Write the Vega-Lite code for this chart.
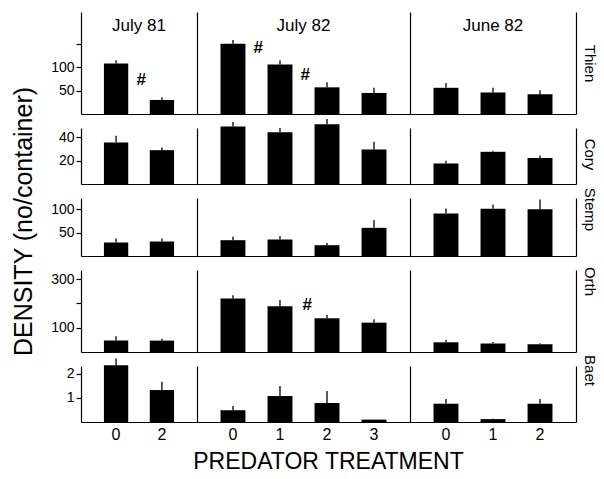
{
  "$schema": "https://vega.github.io/schema/vega-lite/v6.json",
  "padding": {"left": 11, "top": 12, "right": 4, "bottom": 4},
  "background": "white",
  "config": {
    "font": "Liberation Sans",
    "view": {"stroke": null},
    "axis": {"domainColor": "black", "tickColor": "black", "labelColor": "black", "titleColor": "black", "grid": false, "domainWidth": 1.2, "tickWidth": 1.2, "labelFontSize": 14, "titleFontWeight": "normal"},
    "title": {"fontWeight": "normal", "color": "black"}
  },
  "data": {"values": [
    {"taxon": "Thien", "period": "July 81", "treatment": 0, "mean": 108, "upper": 115, "hash": 72},
    {"taxon": "Thien", "period": "July 81", "treatment": 2, "mean": 30, "upper": 36},
    {"taxon": "Thien", "period": "July 82", "treatment": 0, "mean": 150, "upper": 158, "hash": 141},
    {"taxon": "Thien", "period": "July 82", "treatment": 1, "mean": 106, "upper": 115, "hash": 83},
    {"taxon": "Thien", "period": "July 82", "treatment": 2, "mean": 57, "upper": 68},
    {"taxon": "Thien", "period": "July 82", "treatment": 3, "mean": 45, "upper": 56},
    {"taxon": "Thien", "period": "June 82", "treatment": 0, "mean": 56, "upper": 66},
    {"taxon": "Thien", "period": "June 82", "treatment": 1, "mean": 46, "upper": 56},
    {"taxon": "Thien", "period": "June 82", "treatment": 2, "mean": 42, "upper": 51},
    {"taxon": "Cory", "period": "July 81", "treatment": 0, "mean": 35.6, "upper": 41.3},
    {"taxon": "Cory", "period": "July 81", "treatment": 2, "mean": 29, "upper": 31.3},
    {"taxon": "Cory", "period": "July 82", "treatment": 0, "mean": 49.2, "upper": 53.2},
    {"taxon": "Cory", "period": "July 82", "treatment": 1, "mean": 44.4, "upper": 48.1},
    {"taxon": "Cory", "period": "July 82", "treatment": 2, "mean": 51.3, "upper": 55.8},
    {"taxon": "Cory", "period": "July 82", "treatment": 3, "mean": 29.6, "upper": 36.2},
    {"taxon": "Cory", "period": "June 82", "treatment": 0, "mean": 17.6, "upper": 19.9},
    {"taxon": "Cory", "period": "June 82", "treatment": 1, "mean": 27.6, "upper": 28.5},
    {"taxon": "Cory", "period": "June 82", "treatment": 2, "mean": 22.2, "upper": 24.4},
    {"taxon": "Stemp", "period": "July 81", "treatment": 0, "mean": 28.9, "upper": 37.5},
    {"taxon": "Stemp", "period": "July 81", "treatment": 2, "mean": 31, "upper": 37.5},
    {"taxon": "Stemp", "period": "July 82", "treatment": 0, "mean": 33.8, "upper": 40.9},
    {"taxon": "Stemp", "period": "July 82", "treatment": 1, "mean": 35.3, "upper": 43},
    {"taxon": "Stemp", "period": "July 82", "treatment": 2, "mean": 23.1, "upper": 28},
    {"taxon": "Stemp", "period": "July 82", "treatment": 3, "mean": 60.2, "upper": 76.7},
    {"taxon": "Stemp", "period": "June 82", "treatment": 0, "mean": 91, "upper": 101.7},
    {"taxon": "Stemp", "period": "June 82", "treatment": 1, "mean": 100.9, "upper": 110.3},
    {"taxon": "Stemp", "period": "June 82", "treatment": 2, "mean": 100.2, "upper": 121},
    {"taxon": "Orth", "period": "July 81", "treatment": 0, "mean": 47, "upper": 65},
    {"taxon": "Orth", "period": "July 81", "treatment": 2, "mean": 47, "upper": 55},
    {"taxon": "Orth", "period": "July 82", "treatment": 0, "mean": 221, "upper": 234},
    {"taxon": "Orth", "period": "July 82", "treatment": 1, "mean": 189, "upper": 214, "hash": 193},
    {"taxon": "Orth", "period": "July 82", "treatment": 2, "mean": 139, "upper": 152},
    {"taxon": "Orth", "period": "July 82", "treatment": 3, "mean": 121, "upper": 135},
    {"taxon": "Orth", "period": "June 82", "treatment": 0, "mean": 40, "upper": 51},
    {"taxon": "Orth", "period": "June 82", "treatment": 1, "mean": 35, "upper": 41},
    {"taxon": "Orth", "period": "June 82", "treatment": 2, "mean": 32, "upper": 36},
    {"taxon": "Baet", "period": "July 81", "treatment": 0, "mean": 2.36, "upper": 2.64},
    {"taxon": "Baet", "period": "July 81", "treatment": 2, "mean": 1.33, "upper": 1.67},
    {"taxon": "Baet", "period": "July 82", "treatment": 0, "mean": 0.49, "upper": 0.67},
    {"taxon": "Baet", "period": "July 82", "treatment": 1, "mean": 1.08, "upper": 1.5},
    {"taxon": "Baet", "period": "July 82", "treatment": 2, "mean": 0.79, "upper": 1.29},
    {"taxon": "Baet", "period": "July 82", "treatment": 3, "mean": 0.1, "upper": 0.1},
    {"taxon": "Baet", "period": "June 82", "treatment": 0, "mean": 0.76, "upper": 0.96},
    {"taxon": "Baet", "period": "June 82", "treatment": 1, "mean": 0.12, "upper": 0.14},
    {"taxon": "Baet", "period": "June 82", "treatment": 2, "mean": 0.76, "upper": 0.96}
  ]},
  "columns": 3,
  "bounds": "flush",
  "align": "each",
  "spacing": {"row": 14, "column": 0},
  "concat": [
    {
      "width": 116, "height": 102,
      "title": {"text": "July 81", "offset": -19, "dy": 17, "baseline": "alphabetic", "fontSize": 17, "frame": "group"},
      "transform": [{"filter": "datum.taxon == 'Thien' && datum.period == 'July 81'"}],
      "encoding": {"x": {"field": "treatment", "type": "ordinal", "scale": {"paddingInner": 0.47, "paddingOuter": 0.5}, "axis": {"labels": false, "ticks": false, "title": null}}},
      "layer": [
        {"mark": {"type": "bar", "color": "black"}, "encoding": {"y": {"field": "mean", "type": "quantitative", "scale": {"domain": [0, 218], "nice": false}, "axis": {"values": [50, 100, 150], "labelExpr": "datum.value == 150 ? '' : datum.label", "tickSize": 5, "labelPadding": 2, "title": null}}}},
        {"mark": {"type": "rule", "color": "black", "strokeWidth": 1.3}, "encoding": {"y": {"field": "mean", "type": "quantitative"}, "y2": {"field": "upper"}}},
        {"transform": [{"filter": "isValid(datum.hash)"}], "mark": {"type": "text", "text": "#", "dx": 25, "fontSize": 17, "fontStyle": "italic", "fontWeight": "bold", "color": "black"}, "encoding": {"y": {"field": "hash", "type": "quantitative"}}}
      ]
    },
    {
      "width": 213, "height": 102,
      "title": {"text": "July 82", "offset": -19, "dy": 17, "baseline": "alphabetic", "fontSize": 17, "frame": "group"},
      "transform": [{"filter": "datum.taxon == 'Thien' && datum.period == 'July 82'"}],
      "encoding": {"x": {"field": "treatment", "type": "ordinal", "scale": {"paddingInner": 0.47, "paddingOuter": 0.5}, "axis": {"labels": false, "ticks": false, "title": null}}},
      "layer": [
        {"mark": {"type": "bar", "color": "black"}, "encoding": {"y": {"field": "mean", "type": "quantitative", "scale": {"domain": [0, 218], "nice": false}, "axis": {"labels": false, "ticks": false, "title": null}}}},
        {"mark": {"type": "rule", "color": "black", "strokeWidth": 1.3}, "encoding": {"y": {"field": "mean", "type": "quantitative"}, "y2": {"field": "upper"}}},
        {"transform": [{"filter": "isValid(datum.hash)"}], "mark": {"type": "text", "text": "#", "dx": 25, "fontSize": 17, "fontStyle": "italic", "fontWeight": "bold", "color": "black"}, "encoding": {"y": {"field": "hash", "type": "quantitative"}}}
      ]
    },
    {
      "width": 166, "height": 102,
      "title": {"text": "June 82", "offset": -19, "dy": 17, "baseline": "alphabetic", "fontSize": 17, "frame": "group"},
      "transform": [{"filter": "datum.taxon == 'Thien' && datum.period == 'June 82'"}],
      "encoding": {"x": {"field": "treatment", "type": "ordinal", "scale": {"paddingInner": 0.47, "paddingOuter": 0.5}, "axis": {"labels": false, "ticks": false, "title": null}}},
      "resolve": {"axis": {"y": "independent"}},
      "layer": [
        {"mark": {"type": "bar", "color": "black"}, "encoding": {"y": {"field": "mean", "type": "quantitative", "scale": {"domain": [0, 218], "nice": false}, "axis": {"labels": false, "ticks": false, "title": null}}}},
        {"mark": {"type": "rule", "color": "black", "strokeWidth": 1.3}, "encoding": {"y": {"field": "mean", "type": "quantitative", "axis": {"orient": "right", "labels": false, "ticks": false, "title": "Thien", "titleAngle": 90, "titleFontSize": 15, "titlePadding": 5, "titleY": 51}}, "y2": {"field": "upper"}}}
      ]
    },
    {
      "width": 116, "height": 56,
      "transform": [{"filter": "datum.taxon == 'Cory' && datum.period == 'July 81'"}],
      "encoding": {"x": {"field": "treatment", "type": "ordinal", "scale": {"paddingInner": 0.47, "paddingOuter": 0.5}, "axis": {"labels": false, "ticks": false, "title": null}}},
      "layer": [
        {"mark": {"type": "bar", "color": "black"}, "encoding": {"y": {"field": "mean", "type": "quantitative", "scale": {"domain": [0, 48], "nice": false}, "axis": {"values": [20, 40], "tickSize": 5, "labelPadding": 2, "title": null}}}},
        {"mark": {"type": "rule", "color": "black", "strokeWidth": 1.3}, "encoding": {"y": {"field": "mean", "type": "quantitative"}, "y2": {"field": "upper"}}}
      ]
    },
    {
      "width": 213, "height": 56,
      "transform": [{"filter": "datum.taxon == 'Cory' && datum.period == 'July 82'"}],
      "encoding": {"x": {"field": "treatment", "type": "ordinal", "scale": {"paddingInner": 0.47, "paddingOuter": 0.5}, "axis": {"labels": false, "ticks": false, "title": null}}},
      "layer": [
        {"mark": {"type": "bar", "color": "black"}, "encoding": {"y": {"field": "mean", "type": "quantitative", "scale": {"domain": [0, 48], "nice": false}, "axis": {"labels": false, "ticks": false, "title": null}}}},
        {"mark": {"type": "rule", "color": "black", "strokeWidth": 1.3}, "encoding": {"y": {"field": "mean", "type": "quantitative"}, "y2": {"field": "upper"}}}
      ]
    },
    {
      "width": 166, "height": 56,
      "transform": [{"filter": "datum.taxon == 'Cory' && datum.period == 'June 82'"}],
      "encoding": {"x": {"field": "treatment", "type": "ordinal", "scale": {"paddingInner": 0.47, "paddingOuter": 0.5}, "axis": {"labels": false, "ticks": false, "title": null}}},
      "resolve": {"axis": {"y": "independent"}},
      "layer": [
        {"mark": {"type": "bar", "color": "black"}, "encoding": {"y": {"field": "mean", "type": "quantitative", "scale": {"domain": [0, 48], "nice": false}, "axis": {"labels": false, "ticks": false, "title": null}}}},
        {"mark": {"type": "rule", "color": "black", "strokeWidth": 1.3}, "encoding": {"y": {"field": "mean", "type": "quantitative", "axis": {"orient": "right", "labels": false, "ticks": false, "title": "Cory", "titleAngle": 90, "titleFontSize": 15, "titlePadding": 5, "titleY": 26}}, "y2": {"field": "upper"}}}
      ]
    },
    {
      "width": 116, "height": 58,
      "transform": [{"filter": "datum.taxon == 'Stemp' && datum.period == 'July 81'"}],
      "encoding": {"x": {"field": "treatment", "type": "ordinal", "scale": {"paddingInner": 0.47, "paddingOuter": 0.5}, "axis": {"labels": false, "ticks": false, "title": null}}},
      "layer": [
        {"mark": {"type": "bar", "color": "black"}, "encoding": {"y": {"field": "mean", "type": "quantitative", "scale": {"domain": [0, 124], "nice": false}, "axis": {"values": [50, 100], "tickSize": 5, "labelPadding": 2, "title": "DENSITY (no/container)", "titleFontSize": 25, "titlePadding": 14, "titleY": 23}}}},
        {"mark": {"type": "rule", "color": "black", "strokeWidth": 1.3}, "encoding": {"y": {"field": "mean", "type": "quantitative"}, "y2": {"field": "upper"}}}
      ]
    },
    {
      "width": 213, "height": 58,
      "transform": [{"filter": "datum.taxon == 'Stemp' && datum.period == 'July 82'"}],
      "encoding": {"x": {"field": "treatment", "type": "ordinal", "scale": {"paddingInner": 0.47, "paddingOuter": 0.5}, "axis": {"labels": false, "ticks": false, "title": null}}},
      "layer": [
        {"mark": {"type": "bar", "color": "black"}, "encoding": {"y": {"field": "mean", "type": "quantitative", "scale": {"domain": [0, 124], "nice": false}, "axis": {"labels": false, "ticks": false, "title": null}}}},
        {"mark": {"type": "rule", "color": "black", "strokeWidth": 1.3}, "encoding": {"y": {"field": "mean", "type": "quantitative"}, "y2": {"field": "upper"}}}
      ]
    },
    {
      "width": 166, "height": 58,
      "transform": [{"filter": "datum.taxon == 'Stemp' && datum.period == 'June 82'"}],
      "encoding": {"x": {"field": "treatment", "type": "ordinal", "scale": {"paddingInner": 0.47, "paddingOuter": 0.5}, "axis": {"labels": false, "ticks": false, "title": null}}},
      "resolve": {"axis": {"y": "independent"}},
      "layer": [
        {"mark": {"type": "bar", "color": "black"}, "encoding": {"y": {"field": "mean", "type": "quantitative", "scale": {"domain": [0, 124], "nice": false}, "axis": {"labels": false, "ticks": false, "title": null}}}},
        {"mark": {"type": "rule", "color": "black", "strokeWidth": 1.3}, "encoding": {"y": {"field": "mean", "type": "quantitative", "axis": {"orient": "right", "labels": false, "ticks": false, "title": "Stemp", "titleAngle": 90, "titleFontSize": 15, "titlePadding": 5, "titleY": 11}}, "y2": {"field": "upper"}}}
      ]
    },
    {
      "width": 116, "height": 82,
      "transform": [{"filter": "datum.taxon == 'Orth' && datum.period == 'July 81'"}],
      "encoding": {"x": {"field": "treatment", "type": "ordinal", "scale": {"paddingInner": 0.47, "paddingOuter": 0.5}, "axis": {"labels": false, "ticks": false, "title": null}}},
      "layer": [
        {"mark": {"type": "bar", "color": "black"}, "encoding": {"y": {"field": "mean", "type": "quantitative", "scale": {"domain": [0, 338], "nice": false}, "axis": {"values": [100, 200, 300], "labelExpr": "datum.value == 200 ? '' : datum.label", "tickSize": 5, "labelPadding": 2, "title": null}}}},
        {"mark": {"type": "rule", "color": "black", "strokeWidth": 1.3}, "encoding": {"y": {"field": "mean", "type": "quantitative"}, "y2": {"field": "upper"}}}
      ]
    },
    {
      "width": 213, "height": 82,
      "transform": [{"filter": "datum.taxon == 'Orth' && datum.period == 'July 82'"}],
      "encoding": {"x": {"field": "treatment", "type": "ordinal", "scale": {"paddingInner": 0.47, "paddingOuter": 0.5}, "axis": {"labels": false, "ticks": false, "title": null}}},
      "layer": [
        {"mark": {"type": "bar", "color": "black"}, "encoding": {"y": {"field": "mean", "type": "quantitative", "scale": {"domain": [0, 338], "nice": false}, "axis": {"labels": false, "ticks": false, "title": null}}}},
        {"mark": {"type": "rule", "color": "black", "strokeWidth": 1.3}, "encoding": {"y": {"field": "mean", "type": "quantitative"}, "y2": {"field": "upper"}}},
        {"transform": [{"filter": "isValid(datum.hash)"}], "mark": {"type": "text", "text": "#", "dx": 27, "fontSize": 17, "fontStyle": "italic", "fontWeight": "bold", "color": "black"}, "encoding": {"y": {"field": "hash", "type": "quantitative"}}}
      ]
    },
    {
      "width": 166, "height": 82,
      "transform": [{"filter": "datum.taxon == 'Orth' && datum.period == 'June 82'"}],
      "encoding": {"x": {"field": "treatment", "type": "ordinal", "scale": {"paddingInner": 0.47, "paddingOuter": 0.5}, "axis": {"labels": false, "ticks": false, "title": null}}},
      "resolve": {"axis": {"y": "independent"}},
      "layer": [
        {"mark": {"type": "bar", "color": "black"}, "encoding": {"y": {"field": "mean", "type": "quantitative", "scale": {"domain": [0, 338], "nice": false}, "axis": {"labels": false, "ticks": false, "title": null}}}},
        {"mark": {"type": "rule", "color": "black", "strokeWidth": 1.3}, "encoding": {"y": {"field": "mean", "type": "quantitative", "axis": {"orient": "right", "labels": false, "ticks": false, "title": "Orth", "titleAngle": 90, "titleFontSize": 15, "titlePadding": 5, "titleY": 11}}, "y2": {"field": "upper"}}}
      ]
    },
    {
      "width": 116, "height": 56,
      "transform": [{"filter": "datum.taxon == 'Baet' && datum.period == 'July 81'"}],
      "encoding": {"x": {"field": "treatment", "type": "ordinal", "scale": {"paddingInner": 0.47, "paddingOuter": 0.5}, "axis": {"ticks": false, "labelAngle": 0, "labelFontSize": 16, "labelPadding": 4, "title": null}}},
      "layer": [
        {"mark": {"type": "bar", "color": "black"}, "encoding": {"y": {"field": "mean", "type": "quantitative", "scale": {"domain": [0, 2.33], "nice": false}, "axis": {"values": [1, 2], "tickSize": 5, "labelPadding": 2, "title": null}}}},
        {"mark": {"type": "rule", "color": "black", "strokeWidth": 1.3}, "encoding": {"y": {"field": "mean", "type": "quantitative"}, "y2": {"field": "upper"}}}
      ]
    },
    {
      "width": 213, "height": 56,
      "transform": [{"filter": "datum.taxon == 'Baet' && datum.period == 'July 82'"}],
      "encoding": {"x": {"field": "treatment", "type": "ordinal", "scale": {"paddingInner": 0.47, "paddingOuter": 0.5}, "axis": {"ticks": false, "labelAngle": 0, "labelFontSize": 16, "labelPadding": 4, "title": "PREDATOR TREATMENT", "titleFontSize": 23, "titlePadding": 8, "titleX": 131}}},
      "layer": [
        {"mark": {"type": "bar", "color": "black"}, "encoding": {"y": {"field": "mean", "type": "quantitative", "scale": {"domain": [0, 2.33], "nice": false}, "axis": {"labels": false, "ticks": false, "title": null}}}},
        {"mark": {"type": "rule", "color": "black", "strokeWidth": 1.3}, "encoding": {"y": {"field": "mean", "type": "quantitative"}, "y2": {"field": "upper"}}}
      ]
    },
    {
      "width": 166, "height": 56,
      "transform": [{"filter": "datum.taxon == 'Baet' && datum.period == 'June 82'"}],
      "encoding": {"x": {"field": "treatment", "type": "ordinal", "scale": {"paddingInner": 0.47, "paddingOuter": 0.5}, "axis": {"ticks": false, "labelAngle": 0, "labelFontSize": 16, "labelPadding": 4, "title": null}}},
      "resolve": {"axis": {"y": "independent"}},
      "layer": [
        {"mark": {"type": "bar", "color": "black"}, "encoding": {"y": {"field": "mean", "type": "quantitative", "scale": {"domain": [0, 2.33], "nice": false}, "axis": {"labels": false, "ticks": false, "title": null}}}},
        {"mark": {"type": "rule", "color": "black", "strokeWidth": 1.3}, "encoding": {"y": {"field": "mean", "type": "quantitative", "axis": {"orient": "right", "labels": false, "ticks": false, "title": "Baet", "titleAngle": 90, "titleFontSize": 15, "titlePadding": 5, "titleY": 4}}, "y2": {"field": "upper"}}}
      ]
    }
  ]
}
